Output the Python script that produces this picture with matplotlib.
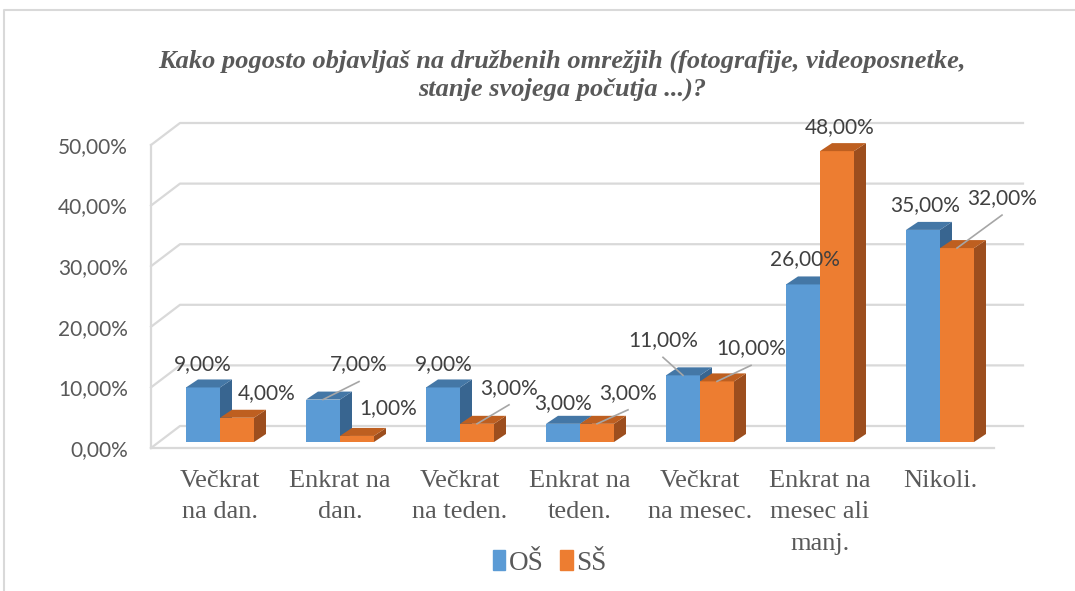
import matplotlib.pyplot as plt
from matplotlib.patches import Polygon, Patch

categories = ["Večkrat\nna dan.", "Enkrat na\ndan.", "Večkrat\nna teden.", "Enkrat na\nteden.",
              "Večkrat\nna mesec.", "Enkrat na\nmesec ali\nmanj.", "Nikoli."]
os_vals = [9, 7, 9, 3, 11, 26, 35]
ss_vals = [4, 1, 3, 3, 10, 48, 32]
series_names = ["OŠ", "SŠ"]
yticks = [0, 10, 20, 30, 40, 50]
title = "Kako pogosto objavljaš na družbenih omrežjih (fotografije, videoposnetke,\nstanje svojega počutja ...)?"

# label offsets from bar top (pixels): dx, dy, leader line
os_lab = [(0, -23, 0), (36, -35, 1), (1, -23, 0), (0, -21, 0), (-20, -35, 1), (2, -25, 0), (2, -25, 0)]
ss_lab = [(30, -25, 0), (31, -28, 0), (32, -36, 1), (31, -31, 1), (34, -33, 1), (3, -24, 0), (45, -50, 1)]

W, H = 1075, 591
PXX, PXY = 120.0, 6.06  # pixels per category / per percent


def gx(px):
    return (px - 220) / PXX


def gy(py):
    return (442 - py) / PXY


fig = plt.figure(figsize=(W / 100, H / 100), dpi=100)
ax = fig.add_axes([0, 0, 1, 1])
ax.set_xlim(gx(0), gx(W))
ax.set_ylim(gy(H), gy(0))
ax.axis("off")

# outer chart border
ax.plot([gx(4), gx(4), gx(1080)], [gy(600), gy(10), gy(10)], color="#d9d9d9", lw=1.5, clip_on=False)

grid_c = "#d9d9d9"
xb_l, xf_l, xb_r, xf_r = gx(180), gx(151), gx(1023), gx(994)
yb0, yf0 = gy(426), gy(448)
for v in yticks:
    ax.plot([xf_l, xb_l, xb_r], [yf0 + v, yb0 + v, yb0 + v], color=grid_c, lw=1.6, zorder=1)
    lab = f"{v:.2f}".replace(".", ",") + "%"
    ax.text(gx(128), yf0 + v - 0.3, lab, ha="right", va="center", fontsize=15,
            family="Lato", color="#595959")
ax.plot([xf_l, xf_l], [yf0, yf0 + yticks[-1]], color=grid_c, lw=1.6, zorder=1)
ax.plot([xf_l, xf_r], [yf0, yf0], color=grid_c, lw=1.6, zorder=1)

bw = 34 / PXX
ddx, ddy = 12 / PXX, 8 / PXY
styles = [("#5B9BD5", "#4477A6", "#386590"), ("#ED7D31", "#BE5F20", "#9C4E1E")]


def draw_bar(xl, v, cols, z):
    xr = xl + bw
    ax.bar(xl, v, width=bw, align="edge", color=cols[0], zorder=z)
    ax.add_patch(Polygon([(xr, 0), (xr + ddx, ddy), (xr + ddx, v + ddy), (xr, v)],
                         closed=True, color=cols[2], zorder=z, lw=0))
    ax.add_patch(Polygon([(xl, v), (xl + ddx, v + ddy), (xr + ddx, v + ddy), (xr, v)],
                         closed=True, color=cols[1], zorder=z, lw=0))


for i in range(len(categories)):
    for s, (vals, labs) in enumerate([(os_vals, os_lab), (ss_vals, ss_lab)]):
        xl = i - bw + s * bw
        v = vals[i]
        draw_bar(xl, v, styles[s], 3 + s)
        dx, dy, leader = labs[i]
        cx = xl + bw / 2
        tx, ty = cx + dx / PXX, v - dy / PXY
        ax.text(tx, ty, f"{v:.2f}".replace(".", ",") + "%", ha="center", va="center",
                fontsize=15, family="Lato", color="#404040", zorder=10)
        if leader:
            ax.plot([cx, tx], [v, ty - 17 / PXY], color="#a6a6a6", lw=1.2, zorder=9)

for i, c in enumerate(categories):
    ax.text(i, gy(470), c, ha="center", va="top", fontsize=19, family="Liberation Serif",
            color="#595959", linespacing=1.55)

ax.text(gx(562), gy(75), title, ha="center", va="center", fontsize=19, family="Liberation Serif",
        fontweight="bold", fontstyle="italic", color="#595959", linespacing=1.25)

handles = [Patch(color=styles[0][0]), Patch(color=styles[1][0])]
fig.legend(handles, series_names, loc="center", bbox_to_anchor=(550 / W, 1 - 563 / H), ncol=2,
           frameon=False, handlelength=0.45, handleheight=0.75, handletextpad=0.15, columnspacing=0.6,
           prop={"family": "Liberation Serif", "size": 19.5}, labelcolor="#595959")

fig.savefig("out.png", dpi=100)
